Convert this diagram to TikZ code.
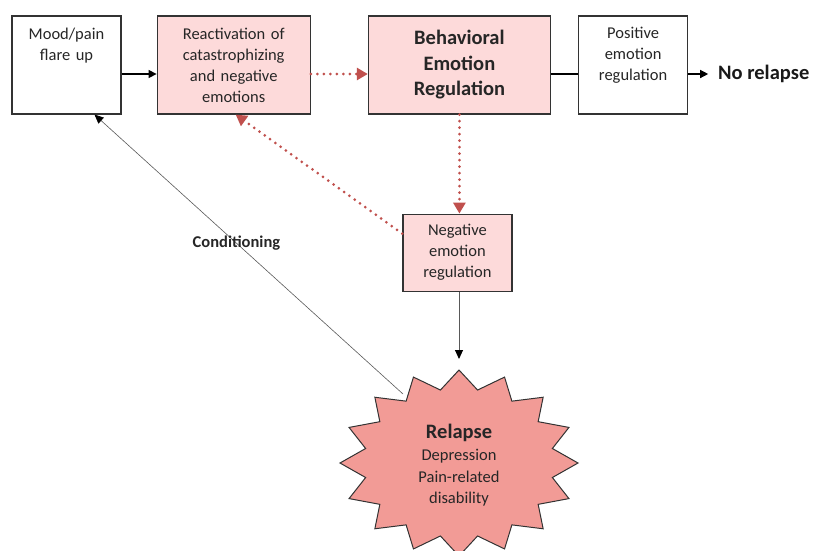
\documentclass[tikz,border=0pt]{standalone}
\usepackage{fontspec}
\setmainfont{Carlito}
\usetikzlibrary{positioning,arrows.meta}
\definecolor{boxpink}{RGB}{253,218,218}
\definecolor{starpink}{RGB}{242,155,150}
\definecolor{dotred}{RGB}{192,80,77}

\begin{document}
\begin{tikzpicture}[
  x=1pt, y=1pt,
  node distance = 0pt and 35pt,
  base/.style = {
    rectangle,
    draw=black!80,
    line width=1.2pt,
    fill=#1,
    inner sep=0pt,
    minimum height=98pt,
    align=center,
    text=black!85,
    font=\fontsize{16.5}{21}\selectfont
  },
  box/.style = {base=#1},
  arr/.style = {line width=1.3pt,-{Triangle[length=8pt,width=8pt]}},
  dotarr/.style = {dotred, line width=3pt, line cap=round,
    dash pattern=on 0pt off 6.5pt,
    -{Triangle[length=11pt,width=12pt]}},
  thinarr/.style = {gray!70!black, -{Triangle[black,length=9pt,width=8pt]}},
  ]
  \useasboundingbox (0,0) rectangle (813,-550);
  \node[box=white, text width=109pt, text height=23pt, text depth=75pt] (mood) at (66.5,-65) {Mood/pain\\flare up};
  \node[box=boxpink, text width=153pt, right=of mood] (react) {Reactivation of\\catastrophizing\\and negative\\emotions};
  \node[box=boxpink, text width=182pt, right=57pt of react,
    font=\bfseries\fontsize{20.5}{25.5}\selectfont] (behav) {Behavioral\\Emotion\\Regulation};
  \node[box=white, text width=109pt, text height=22pt, text depth=76pt, right=27pt of behav] (pos) {Positive\\emotion\\regulation};
  \node[inner sep=0pt, outer sep=10pt, right=20pt of pos, yshift=-9pt, text=black!90,
    font=\bfseries\fontsize{20.5}{24}\selectfont] (norelapse) {No relapse};
  \node[box=boxpink, text width=109pt, minimum height=77pt, below=99pt of behav, xshift=-2pt] (neg) {Negative\\emotion\\regulation};
  % relapse star
  \begin{scope}[shift={(459,-463)}]
    \draw[fill=starpink, draw=black!80, line width=1pt] (90:119 and 93)
      \foreach \k in {1,...,15} { -- ({90+22.5*\k-11.25}:95.2 and 74.4) -- ({90+22.5*\k}:119 and 93) }
      -- (78.75:95.2 and 74.4) -- cycle;
  \end{scope}
  \node[align=center, text=black!85, font=\fontsize{16.5}{21.5}\selectfont] (relapse) at (459,-465)
    {{\bfseries\fontsize{20.5}{24}\selectfont Relapse}\\[1pt]Depression\\Pain-related\\disability};
  \coordinate (relapsetop) at (459,-359);
  \coordinate (relapsenotch) at (403,-394);
  \draw[arr] ([yshift=-9pt]mood.east) -- ([yshift=-9pt]react.west);
  \draw[dotarr] ([yshift=-9pt]react.east) -- ([yshift=-9pt]behav.west);
  \draw[line width=1.2pt] ([yshift=-9pt]behav.east) -- ([yshift=-9pt]pos.west);
  \draw[arr] ([yshift=-9pt]pos.east) -- (norelapse.west);
  \draw[dotarr] (behav.south) -- (behav.south |- neg.north);
  \draw[dotarr] ([yshift=-20pt]neg.north west) -- ([xshift=2pt]react.south);
  \draw[thinarr, line width=1pt] (neg.south -| relapsetop) -- (relapsetop);
  \draw[thinarr, line width=0.6pt] (relapsenotch) -- node[pos=0.54, text=black!85, font=\bfseries\fontsize{16.5}{20}\selectfont] (cond) {Conditioning} ([xshift=28pt]mood.south);
\end{tikzpicture}
\end{document}
